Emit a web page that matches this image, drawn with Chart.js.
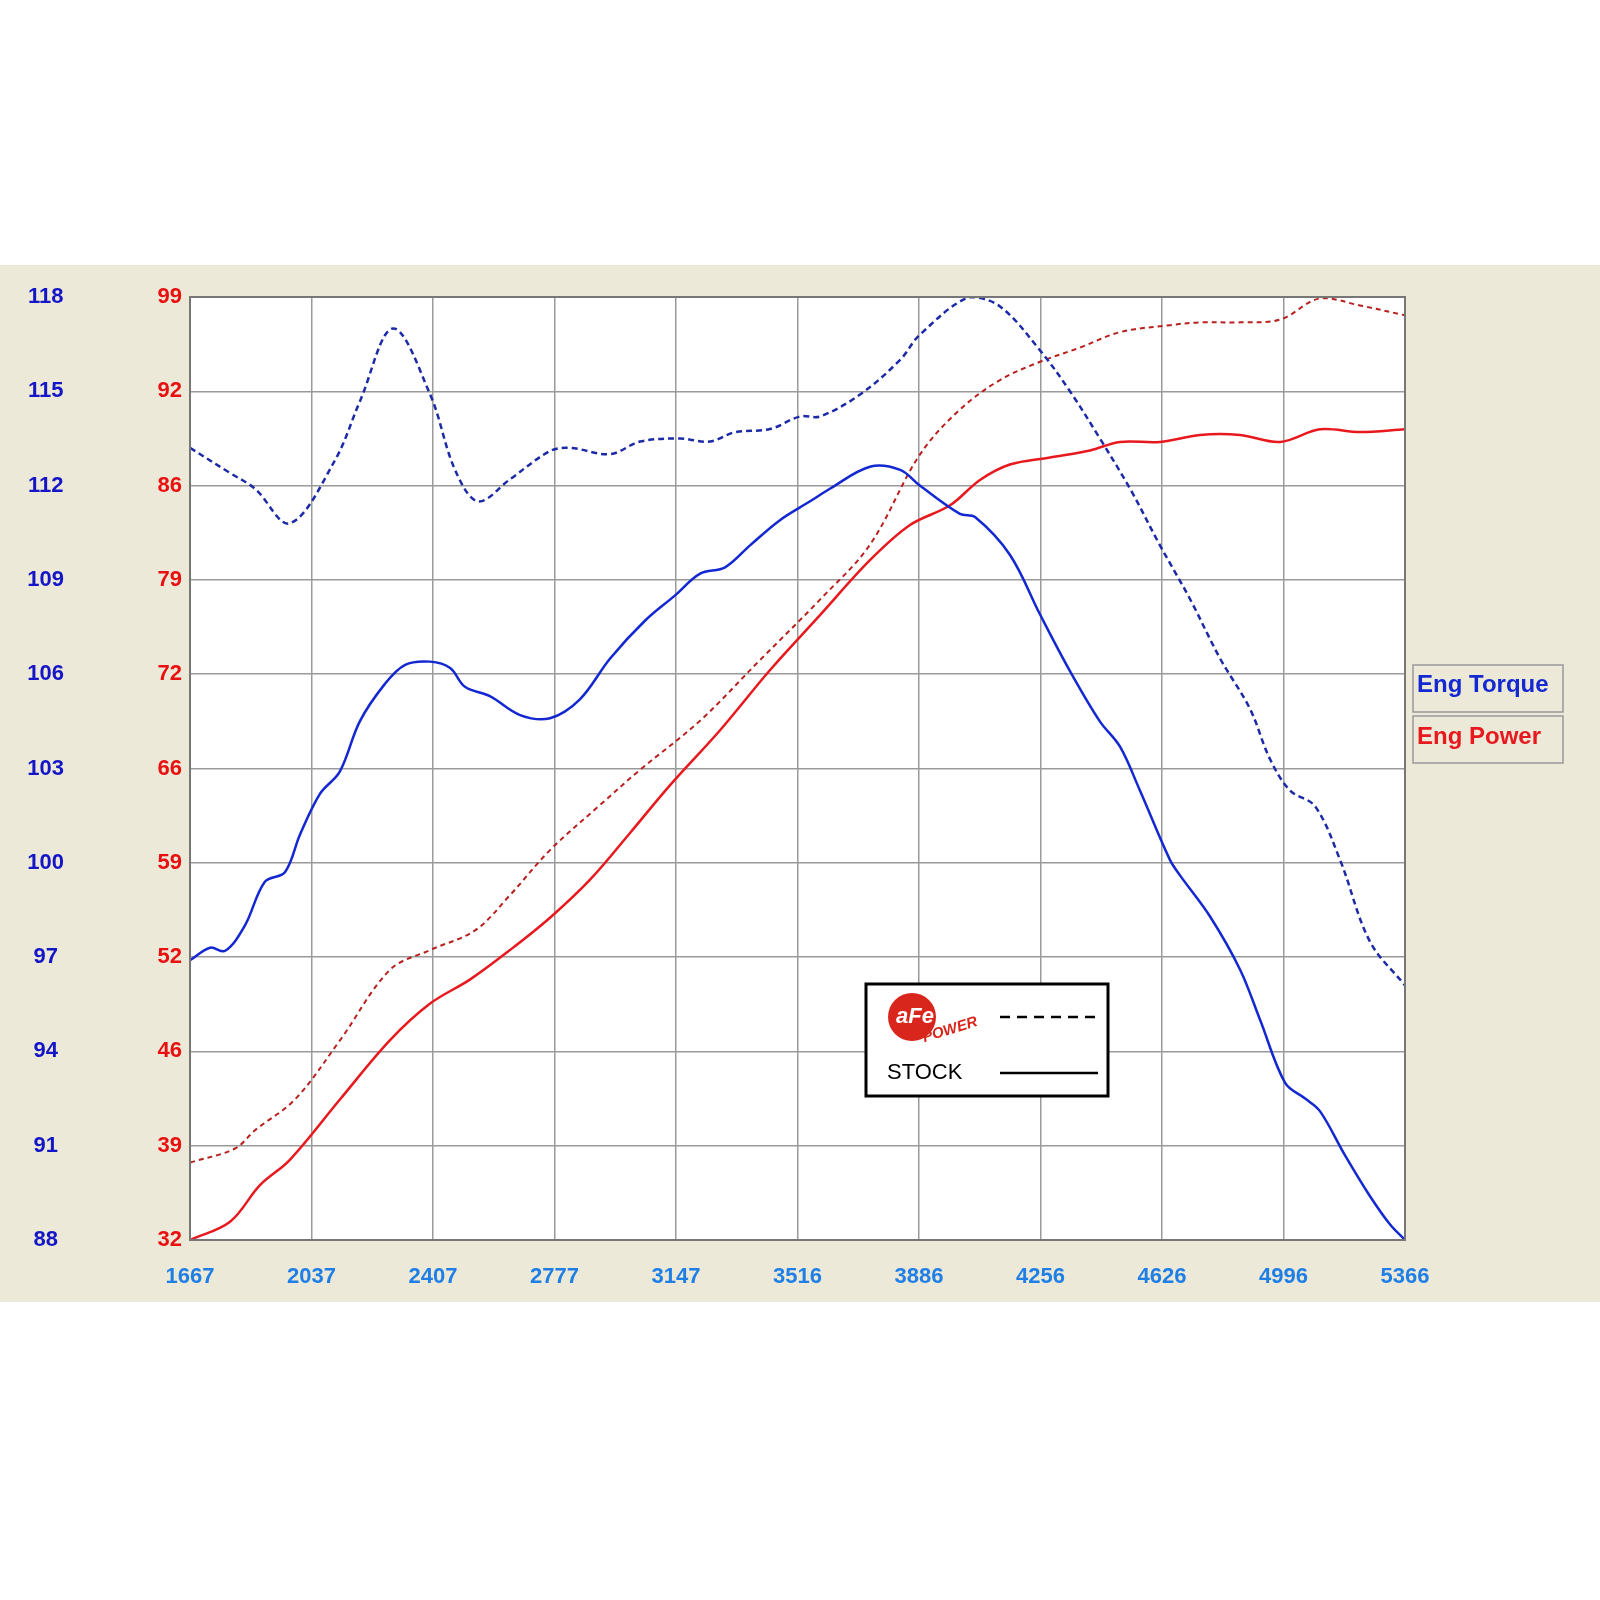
<!DOCTYPE html>
<html><head><meta charset="utf-8">
<script src="https://cdn.jsdelivr.net/npm/chart.js@4"></script>
<style>
html,body{margin:0;padding:0;background:#fff;width:1600px;height:1600px;overflow:hidden}
#wrap{position:absolute;left:0;top:265px;width:1600px;height:1037px;background:#ECE9D8}
</style></head><body>
<div id="wrap"><canvas id="c" width="1600" height="1037"></canvas></div>
<script>
const xTickLabels = ["1667","2037","2407","2777","3147","3516","3886","4256","4626","4996","5366"];
const torqueTickLabels = ["88","91","94","97","100","103","106","109","112","115","118"];
const powerTickLabels = ["32","39","46","52","59","66","72","79","86","92","99"];

const afeTorqueRpm = [1667,1789,1865,1971,2108,2185,2285,2398,2474,2544,2641,2763,2824,2946,3037,3159,3250,3326,3433,3524,3585,3707,3829,3889,4041,4133,4255,4346,4437,4529,4620,4711,4803,4894,4955,5016,5092,5168,5259,5366];
const afeTorque = [113.2,112.4,111.9,110.8,112.8,114.7,117.0,114.9,112.5,111.5,112.2,113.1,113.2,113.0,113.4,113.5,113.4,113.7,113.8,114.2,114.2,114.9,116.0,116.8,118.0,117.7,116.3,115.0,113.5,111.9,110.1,108.4,106.5,104.9,103.3,102.3,101.8,100.1,97.5,96.1];

const stockTorqueRpm = [1667,1728,1774,1834,1895,1956,2002,2063,2123,2184,2261,2322,2398,2459,2504,2580,2672,2763,2854,2946,3052,3143,3220,3296,3372,3463,3555,3615,3737,3829,3889,4011,4057,4163,4255,4346,4437,4498,4559,4650,4681,4772,4864,4925,5001,5062,5107,5183,5259,5320,5366];
const stockTorque = [96.9,97.3,97.2,98.0,99.4,99.7,100.9,102.2,102.9,104.5,105.7,106.3,106.4,106.2,105.6,105.3,104.7,104.6,105.2,106.5,107.7,108.5,109.2,109.4,110.1,110.9,111.5,111.9,112.6,112.5,112.0,111.1,111.0,109.8,107.9,106.1,104.5,103.7,102.3,100.1,99.6,98.3,96.6,95.0,93.0,92.5,92.1,90.7,89.4,88.5,88.0];

const afePowerRpm = [1667,1804,1865,1987,2124,2276,2398,2535,2641,2763,2915,3037,3220,3402,3585,3737,3889,4011,4133,4255,4376,4498,4650,4742,4864,4986,5107,5229,5366];
const afePower = [37.5,38.5,39.8,42.0,46.2,51.2,52.6,54.0,56.5,59.7,62.9,65.4,68.9,73.2,77.5,81.4,87.8,91.0,93.1,94.4,95.4,96.5,97.0,97.2,97.2,97.4,98.9,98.4,97.7];

const stockPowerRpm = [1667,1789,1880,1971,2124,2276,2398,2519,2641,2763,2885,3006,3128,3280,3433,3585,3737,3859,3981,4072,4163,4285,4407,4498,4620,4742,4864,4986,5107,5229,5366];
const stockPower = [32.0,33.3,35.9,37.7,42.0,46.2,48.8,50.5,52.6,54.9,57.6,60.9,64.3,68.2,72.5,76.4,80.3,82.8,84.2,86.0,87.1,87.6,88.1,88.7,88.7,89.2,89.2,88.7,89.6,89.4,89.6];

const pts=(xs,ys)=>xs.map((x,i)=>({x,y:ys[i]}));
const BLUE='#1428d2', RED='#e8191e', DBLUE='#1c2aa8', DRED='#b8201e';
const F='"Liberation Sans", Arial, sans-serif';

function evenTicks(min,max,n){return Array.from({length:n+1},(_,i)=>({value:min+(max-min)*i/n}));}

const deco={
 id:'deco',
 beforeDraw(ch){const a=ch.chartArea,c=ch.ctx;c.save();c.fillStyle='#fff';c.fillRect(a.left,a.top,a.right-a.left,a.bottom-a.top);c.restore();},
 afterDraw(ch){
  const c=ch.ctx;c.save();
  c.strokeStyle='#777';c.lineWidth=2;const a=ch.chartArea;c.strokeRect(a.left,a.top,a.right-a.left,a.bottom-a.top);
  c.lineWidth=1.5;c.strokeStyle='#999';
  c.strokeRect(1413,400,150,47);c.strokeRect(1413,451,150,47);
  c.font='bold 24px '+F;c.textBaseline='middle';c.textAlign='left';
  c.fillStyle=BLUE;c.fillText('Eng Torque',1417,420);
  c.fillStyle=RED;c.fillText('Eng Power',1417,472);
  c.fillStyle='#fff';c.fillRect(866,719,242,112);
  c.strokeStyle='#000';c.lineWidth=3;c.strokeRect(866,719,242,112);
  c.lineWidth=2.5;c.setLineDash([10,7]);c.beginPath();c.moveTo(1000,752);c.lineTo(1098,752);c.stroke();
  c.setLineDash([]);c.beginPath();c.moveTo(1000,808);c.lineTo(1098,808);c.stroke();
  c.fillStyle='#000';c.font='22px '+F;c.fillText('STOCK',887,808);
  c.fillStyle='#d9261c';c.beginPath();c.arc(912,752,24,0,Math.PI*2);c.fill();
  c.fillStyle='#fff';c.font='bold italic 22px '+F;c.textAlign='center';c.fillText('aFe',915,752);
  c.save();c.translate(950,765);c.rotate(-0.3);c.fillStyle='#d9261c';c.font='bold italic 15px '+F;c.fillText('POWER',0,0);c.restore();
  c.restore();
 }
};

new Chart(document.getElementById('c'),{
 type:'scatter',
 data:{datasets:[
  {data:pts(afeTorqueRpm,afeTorque),yAxisID:'yT',borderColor:DBLUE,borderDash:[6,4]},
  {data:pts(stockTorqueRpm,stockTorque),yAxisID:'yT',borderColor:BLUE},
  {data:pts(afePowerRpm,afePower),yAxisID:'yP',borderColor:DRED,borderDash:[5,4],borderWidth:2},
  {data:pts(stockPowerRpm,stockPower),yAxisID:'yP',borderColor:RED}
 ]},
 options:{
  responsive:false,animation:false,
  layout:{padding:{left:12,right:195,top:32,bottom:0}},
  elements:{point:{radius:0},line:{borderWidth:2.5,tension:0.35}},
  datasets:{scatter:{showLine:true}},
  plugins:{legend:{display:false},tooltip:{enabled:false}},
  scales:{
   x:{type:'linear',min:1667,max:5366,
      afterBuildTicks:s=>{s.ticks=evenTicks(1667,5366,10);},
      afterFit:s=>{s.height=62;},
      grid:{color:'#9a9a9a',lineWidth:1.5,drawTicks:false},border:{display:false},
      ticks:{padding:24,maxRotation:0,autoSkip:false,color:'#1f7fe6',font:{family:F,size:22,weight:'bold'},callback:(v,i)=>xTickLabels[i]}},
   yP:{type:'linear',position:'left',min:32,max:99,
      afterBuildTicks:s=>{s.ticks=evenTicks(32,99,10);},
      afterFit:s=>{s.width=118;},
      grid:{color:'#9a9a9a',lineWidth:1.5,drawTicks:false},border:{display:false},
      ticks:{padding:8,autoSkip:false,color:'#e81010',font:{family:F,size:22,weight:'bold'},callback:(v,i)=>powerTickLabels[i]}},
   yT:{type:'linear',position:'left',min:88,max:118,
      afterBuildTicks:s=>{s.ticks=evenTicks(88,118,10);},
      afterFit:s=>{s.width=60;},
      grid:{display:false},border:{display:false},
      ticks:{crossAlign:'center',padding:0,autoSkip:false,color:'#1515c8',font:{family:F,size:22,weight:'bold'},callback:(v,i)=>torqueTickLabels[i]}}
  }
 },
 plugins:[deco]
});
</script></body></html>
